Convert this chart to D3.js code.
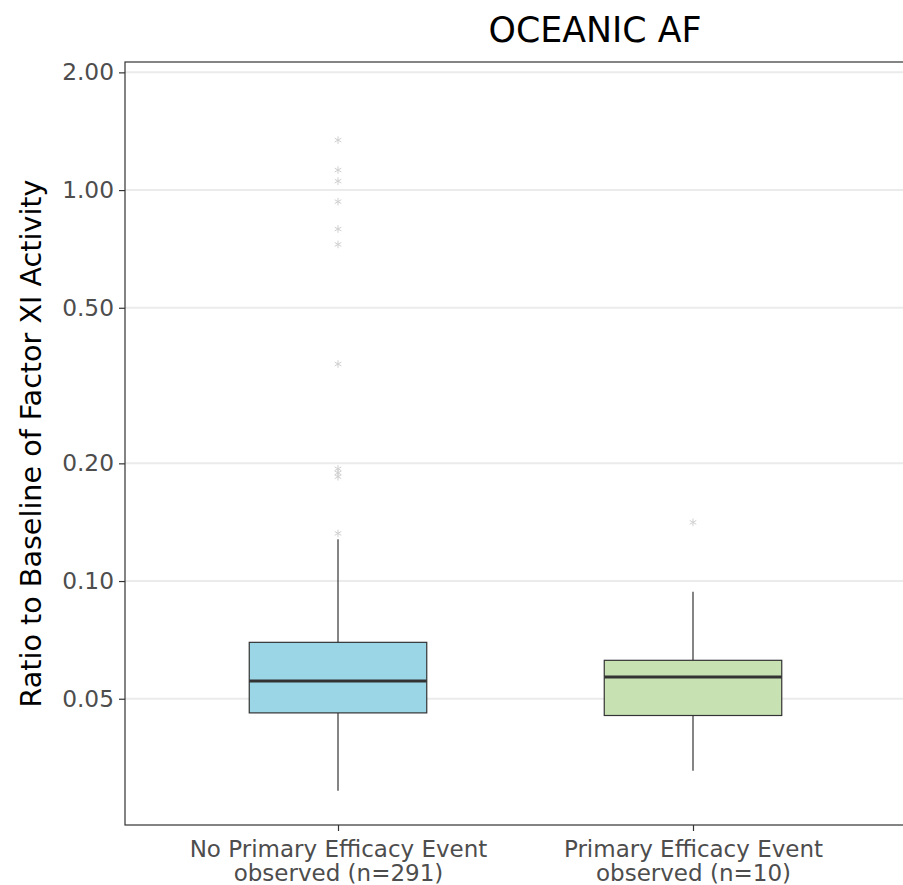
<!DOCTYPE html>
<meta charset="utf-8">
<style>
body { margin: 0; background: #fff; }
text { font-family: "DejaVu Sans", sans-serif; }
.tick text { fill: #4d4d4d; }
</style>
<svg width="903" height="885"></svg>
<script src="https://d3js.org/d3.v7.min.js"></script>
<script>

// box summaries
var groups = ["none", "event"];
var labels = [["No Primary Efficacy Event", "observed (n=291)"],
              ["Primary Efficacy Event", "observed (n=10)"]];
var whiskerLo = [0.0291, 0.0327];
var q1 = [0.0460, 0.0453];
var median = [0.0555, 0.0568];
var q3 = [0.0697, 0.0627];
var whiskerHi = [0.128, 0.0939];
var outliers = [
  [0.1324, 0.1848, 0.1891, 0.1937, 0.359, 0.726, 0.795, 0.934, 1.054, 1.125, 1.342],
  [0.1413]
];
var fills = ["#9bd6e7", "#c8e1b3"];
var yTicks = [0.05, 0.10, 0.20, 0.50, 1.00, 2.00];

var svg = d3.select("svg"),
    pLeft = 125, pTop = 62, pRight = 906, pBottom = 825;

var y = d3.scaleLog()
    .domain([0.02377, 2.126])
    .range([pBottom, pTop]);

var x = d3.scalePoint()
    .domain(groups)
    .range([pLeft, pRight])
    .padding(0.6);   // like ggplot's 0.6 expansion on a discrete axis

var boxW = x.step() * 0.5;

// grid
svg.append("g").selectAll("line")
    .data(yTicks)
  .enter().append("line")
    .attr("x1", pLeft).attr("x2", pRight)
    .attr("y1", function(d) { return y(d); })
    .attr("y2", function(d) { return y(d); })
    .attr("stroke", "#ebebeb")
    .attr("stroke-width", 2);

var idx = d3.range(groups.length);

var b = svg.append("g").selectAll("g")
    .data(idx)
  .enter().append("g");

// whiskers
b.append("line")
    .attr("x1", function(i) { return x(groups[i]); })
    .attr("x2", function(i) { return x(groups[i]); })
    .attr("y1", function(i) { return y(whiskerHi[i]); })
    .attr("y2", function(i) { return y(q3[i]); })
    .attr("stroke", "#333").attr("stroke-width", 1.2);
b.append("line")
    .attr("x1", function(i) { return x(groups[i]); })
    .attr("x2", function(i) { return x(groups[i]); })
    .attr("y1", function(i) { return y(q1[i]); })
    .attr("y2", function(i) { return y(whiskerLo[i]); })
    .attr("stroke", "#333").attr("stroke-width", 1.2);

b.append("rect")
    .attr("x", function(i) { return x(groups[i]) - boxW / 2; })
    .attr("width", boxW)
    .attr("y", function(i) { return y(q3[i]); })
    .attr("height", function(i) { return y(q1[i]) - y(q3[i]); })
    .attr("fill", function(i) { return fills[i]; })
    .attr("stroke", "#333").attr("stroke-width", 1.2);

b.append("line")
    .attr("x1", function(i) { return x(groups[i]) - boxW / 2; })
    .attr("x2", function(i) { return x(groups[i]) + boxW / 2; })
    .attr("y1", function(i) { return y(median[i]); })
    .attr("y2", function(i) { return y(median[i]); })
    .attr("stroke", "#333").attr("stroke-width", 3);

// outliers as asterisks
var star = d3.symbol().type(d3.symbolAsterisk).size(40);
b.selectAll("path.out")
    .data(function(i) { return outliers[i].map(function(v) { return [i, v]; }); })
  .enter().append("path")
    .attr("class", "out")
    .attr("d", star)
    .attr("transform", function(d) { return "translate(" + x(groups[d[0]]) + "," + y(d[1]) + ")"; })
    .attr("fill", "none")
    .attr("stroke", "#cfcfcf")
    .attr("stroke-width", 1);

// panel border
svg.append("rect")
    .attr("x", pLeft).attr("y", pTop)
    .attr("width", pRight - pLeft).attr("height", pBottom - pTop)
    .attr("fill", "none").attr("stroke", "#333").attr("stroke-width", 1.2);

// axes
var yAxis = svg.append("g")
    .attr("transform", "translate(" + pLeft + ",0)")
    .call(d3.axisLeft(y).tickValues(yTicks).tickFormat(d3.format(".2f")).tickSize(6).tickPadding(5));
yAxis.attr("font-size", 23.3).attr("font-family", null);
yAxis.select(".domain").remove();
yAxis.selectAll(".tick line").attr("stroke", "#333").attr("stroke-width", 1.2);

var xAxis = svg.append("g")
    .attr("transform", "translate(0," + pBottom + ")")
    .call(d3.axisBottom(x).tickSize(6).tickFormat(""));
xAxis.attr("font-size", 23).attr("font-family", null);
xAxis.select(".domain").remove();
xAxis.selectAll(".tick line").attr("stroke", "#333").attr("stroke-width", 1.2);

xAxis.selectAll(".tick").append("text")
    .attr("text-anchor", "middle")
    .selectAll("tspan")
    .data(function(d) { return labels[groups.indexOf(d)]; })
  .enter().append("tspan")
    .attr("x", 0)
    .attr("y", function(d, j) { return 32 + j * 24; })
    .text(function(d) { return d; });

svg.append("text")
    .attr("transform", "translate(41," + ((pTop + pBottom) / 2) + ") rotate(-90)")
    .attr("text-anchor", "middle")
    .attr("font-size", 28.6)
    .attr("fill", "#000")
    .text("Ratio to Baseline of Factor XI Activity");

svg.append("text")
    .attr("x", 595).attr("y", 42)
    .attr("text-anchor", "middle")
    .attr("font-size", 34.8)
    .attr("fill", "#000")
    .text("OCEANIC AF");

</script>
